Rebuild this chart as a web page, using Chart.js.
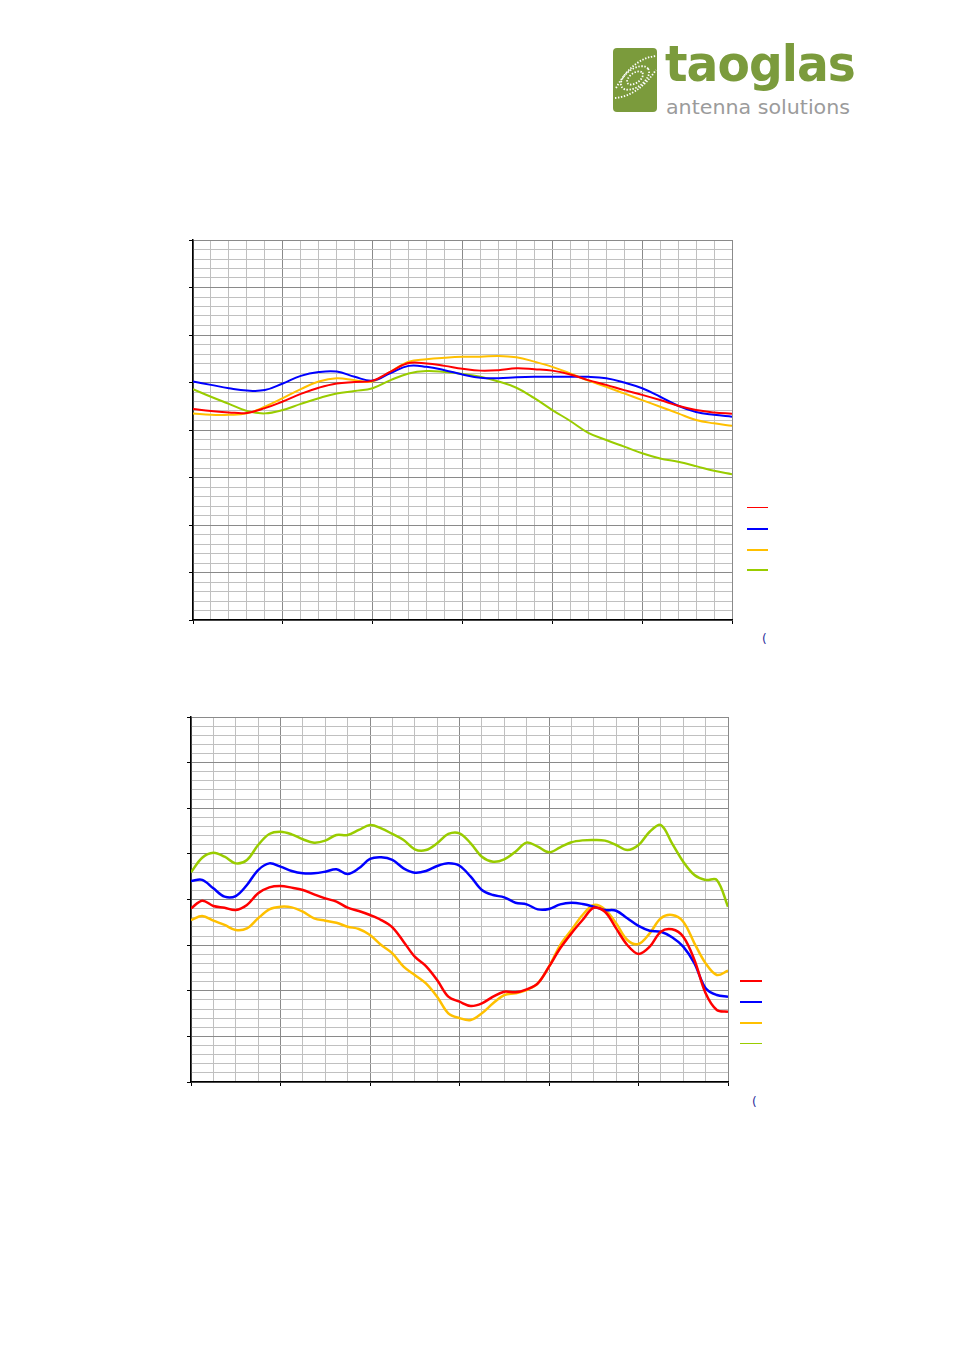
<!DOCTYPE html>
<html lang="en">
<head>
    <meta charset="UTF-8">
    <title>taoglas charts</title>
    <script src="https://cdn.jsdelivr.net/npm/chart.js"></script>
    <style>
        body {
            margin: 0;
            padding: 0;
            background: white;
            width: 954px;
            height: 1350px;
            position: relative;
            overflow: hidden;
            font-family: "DejaVu Sans", sans-serif;
        }
        .logo-mark {
            position: absolute;
            left: 613px;
            top: 48px;
        }
        .logo-name {
            position: absolute;
            left: 665px;
            top: 35px;
            font-family: "DejaVu Sans", sans-serif;
            font-weight: bold;
            font-size: 50px;
            color: #7b9b3c;
            letter-spacing: -1px;
            transform-origin: left top;
        }
        .logo-tag {
            position: absolute;
            left: 666px;
            top: 95px;
            font-family: "DejaVu Sans", sans-serif;
            font-size: 20px;
            color: #9b9b9b;
            transform-origin: left top;
        }
        .box {
            position: absolute;
        }
        .swatch {
            position: absolute;
        }
        .paren {
            position: absolute;
            font-size: 12px;
            color: #2b2b9a;
        }
    </style>
</head>
<body>
    <svg class="logo-mark" width="45" height="65" viewBox="0 0 45 65">
        <rect x="0" y="0" width="44" height="64" rx="4" fill="#7b9b3c"/>
        <g fill="none" stroke="white" stroke-width="1.8" stroke-dasharray="1.4 1.6">
            <ellipse cx="22" cy="30" rx="9" ry="5" transform="rotate(-35 22 30)"/>
            <ellipse cx="22" cy="30" rx="16" ry="9" transform="rotate(-35 22 30)"/>
            <path d="M3 40 Q20 10 43 8"/>
            <path d="M2 50 Q25 48 43 22"/>
        </g>
    </svg>
    <div class="logo-name" id="logoName">taoglas</div>
    <div class="logo-tag" id="logoTag">antenna solutions</div>

    <div class="box" style="left:179px; top:230px; width:563px; height:404px;">
        <canvas id="chart1"></canvas>
    </div>
    <div class="box" style="left:177px; top:707px; width:561px; height:389px;">
        <canvas id="chart2"></canvas>
    </div>

    <div class="swatch" style="left:747px; top:507px; width:21px; height:1px; background:#ff0000;"></div>
    <div class="swatch" style="left:747px; top:528px; width:21px; height:2px; background:#0000ff;"></div>
    <div class="swatch" style="left:747px; top:549px; width:21px; height:2px; background:#ffc000;"></div>
    <div class="swatch" style="left:747px; top:569px; width:21px; height:2px; background:#99cc00;"></div>
    <div class="paren" style="left:762px; top:632px;">(</div>

    <div class="swatch" style="left:740px; top:980px; width:22px; height:2px; background:#ff0000;"></div>
    <div class="swatch" style="left:740px; top:1001px; width:22px; height:2px; background:#0000ff;"></div>
    <div class="swatch" style="left:740px; top:1022px; width:22px; height:2px; background:#ffc000;"></div>
    <div class="swatch" style="left:740px; top:1043px; width:22px; height:1px; background:#99cc00;"></div>
    <div class="paren" style="left:752px; top:1095px;">(</div>

    <script>
        // chart 1 : 30 minor steps across, 40 minor steps up
        const x1 = [0, 1, 2, 3, 4, 5, 6, 7, 8, 9, 10, 11, 12, 13, 14, 15,
                    16, 17, 18, 19, 20, 21, 22, 23, 24, 25, 26, 27, 28, 29, 30];
        const red1 = [22.2, 22.0, 21.85, 21.8, 22.3, 23.0, 23.8, 24.45, 24.9, 25.05, 25.2, 26.15, 27.05, 27.0, 26.75, 26.45,
                      26.25, 26.3, 26.5, 26.4, 26.25, 25.85, 25.25, 24.75, 24.2, 23.7, 23.15, 22.55, 22.1, 21.85, 21.7];
        const blue1 = [25.1, 24.75, 24.4, 24.15, 24.2, 24.9, 25.7, 26.1, 26.15, 25.6, 25.2, 26.0, 26.75, 26.65, 26.3, 25.85,
                       25.5, 25.45, 25.55, 25.6, 25.6, 25.6, 25.6, 25.45, 25.0, 24.4, 23.5, 22.55, 21.9, 21.6, 21.4];
        const yellow1 = [21.75, 21.6, 21.6, 21.75, 22.45, 23.35, 24.3, 25.1, 25.45, 25.25, 25.1, 26.15, 27.2, 27.45, 27.6, 27.7,
                         27.72, 27.8, 27.65, 27.2, 26.65, 25.95, 25.2, 24.55, 23.85, 23.15, 22.45, 21.75, 21.05, 20.7, 20.45];
        const green1 = [24.3, 23.5, 22.75, 22.0, 21.75, 22.1, 22.75, 23.35, 23.85, 24.1, 24.4, 25.25, 25.95, 26.2, 26.1, 25.9,
                        25.6, 25.1, 24.45, 23.35, 22.1, 20.95, 19.7, 18.95, 18.25, 17.55, 17.0, 16.65, 16.2, 15.7, 15.35];

        // chart 2 : 24 minor steps across, 40 minor steps up
        const x2 = [0, 0.5, 1, 1.5, 2, 2.5, 3, 3.5, 4, 4.5, 5, 5.5, 6, 6.5, 7, 7.5, 8, 8.5, 9, 9.5, 10, 10.5, 11, 11.5, 12,
                    12.5, 13, 13.5, 14, 14.5, 15, 15.5, 16, 16.5, 17, 17.5, 18, 18.5, 19, 19.5, 20, 20.5, 21, 21.5, 22, 22.5, 23, 23.5, 24];
        const red2 = [19.03, 19.87, 19.29, 19.1, 18.85, 19.4, 20.68, 21.33, 21.48, 21.3, 21.04, 20.57, 20.13, 19.76, 19.1, 18.74,
                      18.3, 17.75, 16.95, 15.38, 13.73, 12.71, 11.18, 9.35, 8.8,
                      8.33, 8.62, 9.35, 9.9, 9.83, 10.16, 10.81, 12.64, 14.65, 16.29, 17.75, 19.1, 18.66, 16.84, 15.01,
                      14.03, 14.83, 16.47, 16.73, 15.92, 13.37, 9.72, 7.89, 7.71];
        const blue2 = [22.03, 22.15, 21.22, 20.31, 20.38, 21.59, 23.23, 23.96, 23.6, 23.12, 22.87, 22.87, 23.05, 23.31, 22.79, 23.42,
                       24.44, 24.62, 24.33, 23.42, 22.94, 23.12, 23.67, 23.96, 23.7,
                       22.5, 21.04, 20.49, 20.24, 19.65, 19.47, 18.92, 18.96, 19.47, 19.65, 19.51, 19.21, 18.85, 18.77, 17.94,
                       17.1, 16.58, 16.47, 15.86, 14.83, 13.0, 10.27, 9.53, 9.35];
        const yellow2 = [17.75, 18.2, 17.68, 17.21, 16.66, 16.84, 17.94, 18.92, 19.21, 19.14, 18.66, 17.94, 17.68, 17.46, 17.02, 16.77,
                         16.11, 15.01, 14.1, 12.64, 11.73, 10.81, 9.35, 7.53, 7.0,
                         6.79, 7.53, 8.62, 9.53, 9.72, 10.08, 10.81, 12.64, 15.01, 16.66, 18.3, 19.4, 18.92, 17.39, 15.56,
                         15.12, 16.29, 17.94, 18.3, 17.57, 15.2, 13.0, 11.73, 12.2];
        const green2 = [22.98, 24.58, 25.13, 24.69, 23.96, 24.33, 25.97, 27.18, 27.43, 27.14, 26.6, 26.23, 26.45, 27.07, 27.07, 27.62,
                        28.16, 27.8, 27.18, 26.52, 25.5, 25.42, 26.16, 27.18, 27.25,
                        26.16, 24.69, 24.14, 24.4, 25.24, 26.23, 25.79, 25.17, 25.72, 26.27, 26.48, 26.52, 26.45, 25.97, 25.42,
                        25.97, 27.43, 28.16, 26.16, 24.14, 22.68, 22.14, 22.14, 19.21];

        const seriesNames = ['Series 1', 'Series 2', 'Series 3', 'Series 4'];
        const seriesColors = ['#ff0000', '#0000ff', '#ffc000', '#99cc00'];

        function gridAxis(max, major) {
            return {
                type: 'linear',
                min: 0,
                max: max,
                ticks: { display: false, stepSize: 1, autoSkip: false },
                grid: {
                    color: c => (c.tick && c.tick.value % major === 0) ? '#8a8a8a' : '#c0c0c0',
                    tickColor: c => (c.tick && c.tick.value % major === 0) ? '#000000' : 'rgba(0,0,0,0)',
                    lineWidth: 1,
                    tickLength: 4
                },
                border: { color: '#000000', width: 1.5 }
            };
        }

        function makeChart(id, xs, series, xMax, xMajor, width, tension) {
            const ctx = document.getElementById(id).getContext('2d');
            new Chart(ctx, {
                type: 'line',
                data: {
                    datasets: series.map((ys, i) => ({
                        label: seriesNames[i],
                        data: xs.map((x, j) => ({ x: x, y: ys[j] })),
                        borderColor: seriesColors[i],
                        borderWidth: width,
                        pointRadius: 0,
                        tension: tension,
                        fill: false
                    }))
                },
                options: {
                    responsive: true,
                    maintainAspectRatio: false,
                    animation: false,
                    layout: { padding: 10 },
                    plugins: { legend: { display: false }, tooltip: { enabled: false } },
                    scales: {
                        x: gridAxis(xMax, xMajor),
                        y: gridAxis(40, 5)
                    }
                }
            });
        }

        makeChart('chart1', x1, [red1, blue1, yellow1, green1], 30, 5, 2, 0.4);
        makeChart('chart2', x2, [red2, blue2, yellow2, green2], 24, 4, 2.5, 0.35);

        // fit logo words to their width in the reference
        function fitWidth(id, target) {
            const el = document.getElementById(id);
            const w = el.getBoundingClientRect().width;
            el.style.transform = 'scaleX(' + (target / w) + ')';
        }
        fitWidth('logoName', 190);
        fitWidth('logoTag', 184);
    </script>
</body>
</html>
